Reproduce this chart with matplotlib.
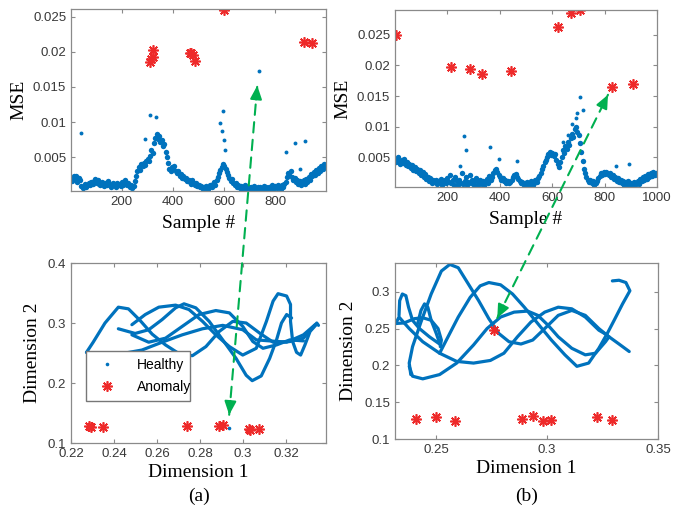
import numpy as np
import matplotlib
matplotlib.use("Agg")
import matplotlib.pyplot as plt
from matplotlib.patches import ConnectionPatch
from matplotlib.ticker import FormatStrFormatter

# ---------------- data ----------------
# sample index of the healthy MSE points (every 5th sample)
samples = np.arange(1, 1000, 5)

# MSE of healthy samples, panel (a), x 1e-3
mse_a = [2.1, 1.6, 2.3, 1.9, 2.4, 1.5, 2.0, 1.7, 0.9, 0.6,
         0.8, 1.2, 0.7, 1.0, 1.3, 1.1, 1.5, 1.2, 1.6, 1.9,
         1.4, 1.7, 1.2, 1.0, 1.5, 1.3, 0.9, 1.4, 1.1, 1.6,
         1.2, 0.8, 1.0, 1.4, 1.1, 0.7, 1.3, 1.0, 1.2, 0.9,
         1.5, 1.1, 1.8, 1.3, 1.0, 1.4, 0.8, 1.1, 0.6, 0.9,
         1.6, 2.4, 3.0, 3.6, 3.2, 4.0, 3.7, 4.2, 3.9, 4.4,
         4.8, 4.5, 5.2, 6.0, 5.6, 7.0, 7.8, 8.3, 7.6, 8.0,
         7.2, 7.5, 6.6, 6.9, 5.8, 5.0, 4.2, 3.4, 3.0, 3.6,
         3.3, 3.8, 3.1, 2.7, 3.0, 2.4, 2.6, 2.1, 2.3, 1.9,
         2.0, 1.6, 1.8, 1.5, 1.2, 1.7, 1.3, 1.0, 1.4, 0.9,
         1.1, 0.7, 0.9, 0.5, 0.8, 0.6, 0.9, 0.5, 0.7, 1.0,
         0.8, 1.2, 1.5, 1.0, 1.8, 2.2, 2.7, 3.2, 3.6, 4.1,
         3.8, 3.3, 2.9, 2.5, 2.0, 1.6, 1.9, 1.3, 1.0, 1.4,
         0.8, 1.1, 0.6, 0.9, 0.5, 0.7, 1.0, 0.4, 0.6, 0.8,
         0.5, 0.7, 0.4, 0.9, 0.6, 0.3, 0.7, 0.5, 0.8, 0.4,
         0.6, 0.9, 0.5, 0.7, 0.4, 0.8, 0.6, 1.0, 0.5, 0.7,
         0.9, 0.6, 1.1, 0.8, 0.5, 1.0, 0.7, 1.2, 1.5, 2.2,
         2.8, 2.5, 3.0, 2.2, 1.8, 2.1, 1.5, 1.8, 1.2, 1.6,
         1.0, 1.4, 1.7, 1.2, 1.9, 1.5, 2.2, 1.8, 2.6, 2.3,
         2.9, 2.5, 3.2, 2.8, 3.5, 3.1, 3.8, 3.4, 4.1, 3.7]
# isolated healthy points, panel (a)
out_a_x = [40, 290, 309, 335, 585, 590, 597, 600, 605, 737, 842, 878, 898, 917]
out_a_y = [8.4, 7.6, 11.0, 10.8, 9.9, 8.7, 11.6, 7.4, 6.0, 17.3, 5.8, 7.1, 3.4, 7.3]
# anomalies, panel (a)
anom_a_x = [312, 316, 320, 320, 466, 472, 479, 487, 599, 913, 944]
anom_a_y = [18.6, 19.0, 19.2, 20.3, 19.8, 19.9, 19.5, 18.7, 26.0, 21.4, 21.2]

# MSE of healthy samples, panel (b), x 1e-3
mse_b = [4.8, 4.3, 5.0, 4.5, 3.9, 4.6, 4.1, 4.7, 3.8, 4.3,
         3.6, 4.0, 3.3, 3.7, 3.0, 3.4, 2.8, 3.1, 2.5, 2.9,
         2.2, 2.6, 1.8, 2.3, 1.5, 1.9, 1.2, 1.6, 0.9, 1.3,
         1.0, 1.4, 0.7, 1.2, 0.9, 1.5, 0.6, 1.1, 1.3, 0.8,
         1.6, 1.0, 2.1, 0.8, 1.3, 0.6, 1.8, 1.1, 0.5, 1.4,
         0.9, 2.4, 0.7, 1.2, 1.9, 0.5, 1.0, 2.2, 0.8, 1.3,
         0.6, 1.1, 1.7, 0.5, 0.9, 1.4, 0.7, 1.2, 0.4, 1.0,
         1.5, 0.8, 2.0, 1.3, 1.8, 2.4, 2.9, 3.2, 2.7, 2.2,
         1.8, 1.4, 1.6, 1.1, 1.3, 0.9, 1.2, 0.8, 1.0, 1.4,
         1.8, 2.1, 2.3, 1.9, 1.5, 1.1, 0.8, 1.0, 0.6, 0.9,
         0.7, 1.0, 0.5, 0.8, 1.1, 0.6, 0.9, 1.3, 1.0, 1.6,
         2.0, 2.5, 3.1, 3.6, 4.2, 4.6, 5.1, 5.5, 5.9, 5.4,
         5.8, 5.2, 5.6, 4.6, 4.0, 3.5, 4.3, 5.0, 6.2, 5.7,
         6.8, 6.4, 7.5, 7.0, 8.1, 8.8, 8.4, 9.6, 9.9, 9.2,
         8.6, 7.4, 5.9, 4.5, 3.2, 2.4, 1.8, 1.3, 1.0, 1.4,
         0.8, 1.1, 0.6, 0.9, 1.2, 1.6, 2.0, 2.4, 2.2, 2.6,
         2.3, 2.7, 2.4, 2.1, 2.5, 1.8, 2.2, 1.5, 1.9, 1.2,
         1.6, 1.0, 1.4, 0.8, 1.2, 0.6, 1.0, 0.7, 1.1, 0.5,
         0.9, 0.6, 1.0, 0.5, 0.8, 1.2, 0.7, 1.5, 1.1, 1.8,
         1.3, 2.0, 1.5, 2.3, 1.8, 2.5, 2.0, 2.7, 2.2, 2.4]
out_b_x = [250, 264, 270, 362, 397, 466, 640, 660, 675, 690, 695, 706, 718, 845, 892]
out_b_y = [3.6, 8.5, 6.2, 6.7, 4.7, 4.4, 7.6, 8.7, 10.4, 11.5, 12.2, 14.8, 12.7, 3.6, 4.0]
anom_b_x = [6, 216, 286, 333, 442, 623, 673, 708, 828, 909]
anom_b_y = [25.0, 19.8, 19.4, 18.6, 19.1, 26.2, 28.5, 29.0, 16.5, 17.0]

# 2-D embedding, panel (a): healthy trajectories
traj_a = [
    ([0.2272, 0.2303, 0.2358, 0.2420, 0.2467, 0.2522, 0.2577, 0.2639, 0.2702, 0.2764,
      0.2827, 0.2889, 0.2952, 0.3014, 0.3077, 0.3139, 0.3217, 0.3280, 0.3342, 0.3350],
     [0.2511, 0.2680, 0.3000, 0.3264, 0.3236, 0.3039, 0.2815, 0.2635, 0.2489, 0.2455,
      0.2607, 0.2860, 0.3028, 0.3000, 0.2831, 0.2680, 0.2691, 0.2747, 0.3000, 0.2961]),
    ([0.2272, 0.2342, 0.2436, 0.2530, 0.2623, 0.2717, 0.2811, 0.2905, 0.2998, 0.3061,
      0.3123, 0.3202, 0.3280, 0.3334],
     [0.2511, 0.2466, 0.2489, 0.2550, 0.2680, 0.2803, 0.2904, 0.2961, 0.2888, 0.2719,
      0.2702, 0.2680, 0.2803, 0.2972]),
    ([0.2420, 0.2498, 0.2561, 0.2623, 0.2686, 0.2725, 0.2780, 0.2842, 0.2905, 0.2967,
      0.3014, 0.3042, 0.3084, 0.3123, 0.3155, 0.3178, 0.3202, 0.3225],
     [0.2904, 0.2826, 0.2888, 0.3056, 0.3253, 0.3320, 0.3253, 0.3028, 0.2719, 0.2410,
      0.2129, 0.2039, 0.2118, 0.2410, 0.2719, 0.3000, 0.3141, 0.3084]),
    ([0.2483, 0.2545, 0.2608, 0.2686, 0.2748, 0.2811, 0.2873, 0.2936, 0.2998, 0.3061,
      0.3108, 0.3139, 0.3162, 0.3202, 0.3220, 0.3220, 0.3230, 0.3248, 0.3267, 0.3287,
      0.3311, 0.3342],
     [0.2972, 0.3141, 0.3264, 0.3298, 0.3225, 0.3028, 0.2803, 0.2607, 0.2466, 0.2579,
      0.3028, 0.3365, 0.3489, 0.3450, 0.3309, 0.3028, 0.2691, 0.2511, 0.2466, 0.2635,
      0.2860, 0.2983]),
    ([0.2483, 0.2561, 0.2639, 0.2717, 0.2795, 0.2873, 0.2936, 0.2998, 0.3045, 0.3092,
      0.3155, 0.3217, 0.3280],
     [0.2803, 0.2680, 0.2747, 0.2944, 0.3141, 0.3208, 0.3169, 0.2944, 0.2691, 0.2579,
      0.2635, 0.2719, 0.2702]),
]
stray_a_x = [0.2589, 0.2936]
stray_a_y = [0.248, 0.125]
emb_anom_a_x = [0.2283, 0.2292, 0.2350, 0.2741, 0.2889, 0.2908, 0.3027, 0.3031, 0.3073]
emb_anom_a_y = [0.128, 0.127, 0.127, 0.128, 0.128, 0.130, 0.123, 0.122, 0.123]

# 2-D embedding, panel (b)
traj_b = [
    ([0.2385, 0.2378, 0.2393, 0.2431, 0.2477, 0.2523, 0.2561, 0.2599, 0.2645, 0.2691,
      0.2737, 0.2782, 0.2828, 0.2882, 0.2935, 0.2989, 0.3050, 0.3111, 0.3172, 0.3233,
      0.3279, 0.3324, 0.3370],
     [0.1875, 0.2031, 0.2254, 0.2589, 0.2969, 0.3281, 0.3371, 0.3326, 0.3103, 0.2879,
      0.2634, 0.2433, 0.2321, 0.2290, 0.2344, 0.2500, 0.2679, 0.2746, 0.2679, 0.2500,
      0.2388, 0.2290, 0.2188]),
    ([0.2515, 0.2553, 0.2599, 0.2653, 0.2698, 0.2737, 0.2790, 0.2844, 0.2897, 0.2958,
      0.3019, 0.3080, 0.3134, 0.3187, 0.3233, 0.3271, 0.3302, 0.3340, 0.3373, 0.3355,
      0.3324, 0.3294],
     [0.2165, 0.2388, 0.2656, 0.2924, 0.3080, 0.3125, 0.3094, 0.2969, 0.2790, 0.2567,
      0.2344, 0.2143, 0.1987, 0.2031, 0.2232, 0.2433, 0.2612, 0.2835, 0.3013, 0.3125,
      0.3156, 0.3147]),
    ([0.2378, 0.2393, 0.2439, 0.2515, 0.2592, 0.2668, 0.2729, 0.2790, 0.2851, 0.2912,
      0.2958, 0.3004, 0.3050, 0.3111, 0.3172, 0.3218, 0.3263, 0.3279],
     [0.1987, 0.1853, 0.1817, 0.1875, 0.2031, 0.2277, 0.2500, 0.2656, 0.2723, 0.2737,
      0.2679, 0.2545, 0.2388, 0.2232, 0.2143, 0.2165, 0.2321, 0.2388]),
    ([0.2317, 0.2332, 0.2378, 0.2439, 0.2515, 0.2592, 0.2668, 0.2744, 0.2805, 0.2866,
      0.2927, 0.2989, 0.3050, 0.3111, 0.3172, 0.3233, 0.3271],
     [0.2567, 0.2656, 0.2500, 0.2321, 0.2165, 0.2054, 0.2031, 0.2067, 0.2165, 0.2388,
      0.2589, 0.2723, 0.2790, 0.2768, 0.2656, 0.2478, 0.2411]),
    ([0.2309, 0.2355, 0.2401, 0.2439, 0.2477, 0.2508, 0.2523, 0.2518],
     [0.2567, 0.2576, 0.2634, 0.2647, 0.2612, 0.2500, 0.2344, 0.2254]),
    ([0.2332, 0.2335, 0.2347, 0.2363, 0.2375, 0.2393, 0.2424, 0.2469, 0.2515],
     [0.2679, 0.2879, 0.2969, 0.2946, 0.2790, 0.2612, 0.2500, 0.2388, 0.2290]),
    ([0.2416, 0.2431, 0.2447, 0.2462, 0.2477, 0.2500, 0.2518],
     [0.2567, 0.2746, 0.2835, 0.2790, 0.2612, 0.2433, 0.2277]),
]
emb_anom_b_x = [0.2408, 0.2500, 0.2584, 0.2760, 0.2885, 0.2935, 0.2981, 0.3016, 0.3225, 0.3294]
emb_anom_b_y = [0.1272, 0.1295, 0.1250, 0.2487, 0.1272, 0.1317, 0.1250, 0.1259, 0.1304, 0.1263]

# ---------------- style ----------------
blue = '#0072BD'
red = '#ee2a2a'
green = '#00B050'
edge = '#8a8a8a'
star = (8, 2, 0)
dot = 3.9
serif = ['Liberation Serif', 'DejaVu Serif']
plt.rcParams['font.family'] = ['Liberation Sans', 'DejaVu Sans']

fig = plt.figure(figsize=(6.9, 5.14), dpi=100)
ax_tl = fig.add_axes([0.1029, 0.6284, 0.3696, 0.3541])
ax_tr = fig.add_axes([0.5725, 0.6362, 0.3797, 0.3444])
ax_bl = fig.add_axes([0.1029, 0.1381, 0.3696, 0.3502])
ax_br = fig.add_axes([0.5725, 0.1459, 0.3812, 0.3424])


def style(ax):
    for sp in ax.spines.values():
        sp.set_color(edge)
        sp.set_linewidth(0.9)
    ax.tick_params(direction='in', length=3, width=0.8, color=edge,
                   labelsize=9.5, labelcolor='#383838', top=True, right=True)


# MSE panels
s_a = np.array(samples)
ax_tl.plot(s_a, np.array(mse_a) * 1e-3, 'o', ms=dot, mew=0, color=blue)
ax_tl.plot(out_a_x, np.array(out_a_y) * 1e-3, 'o', ms=2.8, mew=0, color=blue)
ax_tl.plot(anom_a_x, np.array(anom_a_y) * 1e-3, ls='none', marker=star, ms=7.5, mew=1.2, color=red)
ax_tl.set_xlim(1, 999)
ax_tl.set_ylim(0.0002, 0.0261)
ax_tl.set_xticks([200, 400, 600, 800])
ax_tl.set_yticks([0.005, 0.01, 0.015, 0.02, 0.025])

ax_tr.plot(s_a, np.array(mse_b) * 1e-3, 'o', ms=dot, mew=0, color=blue)
ax_tr.plot(out_b_x, np.array(out_b_y) * 1e-3, 'o', ms=2.8, mew=0, color=blue)
ax_tr.plot(anom_b_x, np.array(anom_b_y) * 1e-3, ls='none', marker=star, ms=7.5, mew=1.2, color=red)
ax_tr.set_xlim(1, 1000)
ax_tr.set_ylim(0.0002, 0.029)
ax_tr.set_xticks([200, 400, 600, 800, 1000])
ax_tr.set_yticks([0.005, 0.01, 0.015, 0.02, 0.025])

for ax in (ax_tl, ax_tr):
    style(ax)
    ax.yaxis.set_major_formatter(FormatStrFormatter('%g'))
    ax.set_xlabel('Sample #', family=serif, fontsize=14, labelpad=5)
    ax.set_ylabel('MSE', family=serif, fontsize=14, labelpad=4)

# embedding panels
for xs, ys in traj_a:
    ax_bl.plot(xs, ys, '-', lw=2.3, color=blue, solid_capstyle='round')
h_healthy, = ax_bl.plot(stray_a_x, stray_a_y, 'o', ms=2.6, mew=0, color=blue, label='Healthy')
h_anom, = ax_bl.plot(emb_anom_a_x, emb_anom_a_y, ls='none', marker=star, ms=7.5, mew=1.2,
                     color=red, label='Anomaly')
ax_bl.set_xlim(0.2201, 0.3385)
ax_bl.set_ylim(0.1, 0.4)
ax_bl.set_xticks([0.22, 0.24, 0.26, 0.28, 0.3, 0.32])
ax_bl.set_yticks([0.1, 0.2, 0.3, 0.4])
leg = ax_bl.legend(handles=[h_healthy, h_anom], loc='lower left',
                   bbox_to_anchor=(0.031, 0.194, 0.463, 0.328), mode='expand',
                   fancybox=False, framealpha=1, edgecolor='#777777', fontsize=10,
                   borderpad=0.5, labelspacing=0.6, handletextpad=1.2)
leg.get_frame().set_linewidth(1.0)

for xs, ys in traj_b:
    ax_br.plot(xs, ys, '-', lw=2.3, color=blue, solid_capstyle='round')
ax_br.plot(emb_anom_b_x, emb_anom_b_y, ls='none', marker=star, ms=7.5, mew=1.2, color=red)
ax_br.set_xlim(0.2314, 0.35)
ax_br.set_ylim(0.1, 0.339)
ax_br.set_xticks([0.25, 0.3, 0.35])
ax_br.set_yticks([0.1, 0.15, 0.2, 0.25, 0.3])

for ax in (ax_bl, ax_br):
    style(ax)
    ax.xaxis.set_major_formatter(FormatStrFormatter('%g'))
    ax.yaxis.set_major_formatter(FormatStrFormatter('%g'))
    ax.set_xlabel('Dimension 1', family=serif, fontsize=14, labelpad=3)
    ax.set_ylabel('Dimension 2', family=serif, fontsize=14, labelpad=5)

# dashed green double arrows linking the same anomaly in both views
links = [(ax_bl, (0.2935, 0.147), ax_tl, (730, 0.0152), (0.9, 10)),
         (ax_br, (0.2775, 0.2643), ax_tr, (813, 0.0152), (4.5, 9))]
for ax_a, pa, ax_b, pb, (dx, dy) in links:
    con = ConnectionPatch(xyA=pa, coordsA=ax_a.transData, xyB=pb, coordsB=ax_b.transData,
                          color=green, lw=1.5, linestyle=(0, (5, 3.5)))
    fig.add_artist(con)
    ax_a.annotate('', xy=pa, xytext=(dx, dy), textcoords='offset points',
                  arrowprops=dict(arrowstyle='-|>,head_length=0.8,head_width=0.35',
                                  color=green, lw=1.5, shrinkA=0, shrinkB=0))
    ax_b.annotate('', xy=pb, xytext=(-dx, -dy), textcoords='offset points',
                  arrowprops=dict(arrowstyle='-|>,head_length=0.8,head_width=0.35',
                                  color=green, lw=1.5, shrinkA=0, shrinkB=0))

fig.text(0.2877, 0.025, '(a)', family=serif, fontsize=14, ha='center')
fig.text(0.7633, 0.025, '(b)', family=serif, fontsize=14, ha='center')

fig.savefig('out.png', dpi=100)
